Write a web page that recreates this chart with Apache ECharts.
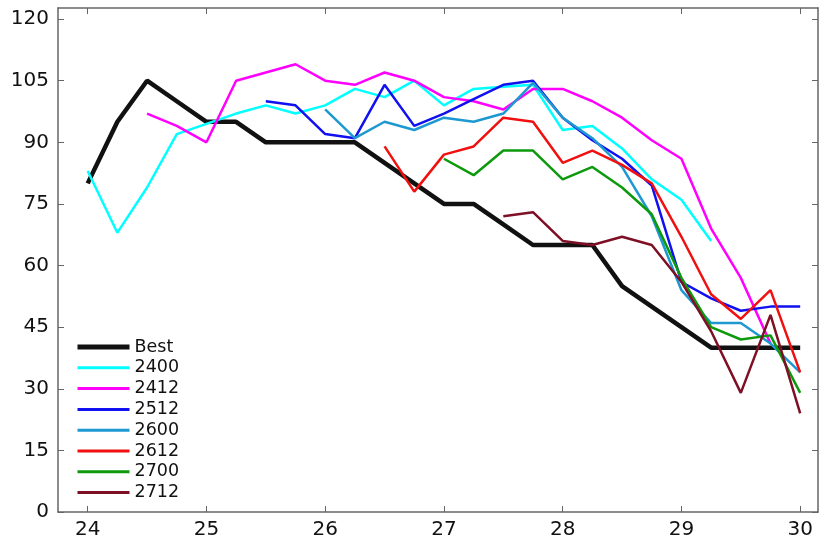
<!DOCTYPE html>
<html>
<head>
<meta charset="utf-8">
<script src="https://cdn.jsdelivr.net/npm/echarts@6/dist/echarts.min.js"></script>
<style>
  html, body { margin: 0; padding: 0; background: #fff; }
  #chart { width: 839px; height: 545px; }
</style>
</head>
<body>
<div id="chart"></div>
<script>
// x positions (quarter steps)
const xSteps = [24, 24.25, 24.5, 24.75, 25, 25.25, 25.5, 25.75, 26, 26.25, 26.5, 26.75,
  27, 27.25, 27.5, 27.75, 28, 28.25, 28.5, 28.75, 29, 29.25, 29.5, 29.75, 30];
const xTicks = [24, 25, 26, 27, 28, 29, 30];
const yTicks = [0, 15, 30, 45, 60, 75, 90, 105, 120];

const seriesNames = ["Best", "2400", "2412", "2512", "2600", "2612", "2700", "2712"];
const seriesColors = ["#111111", "#00ffff", "#ff00ff", "#1010f0", "#1e98d0", "#f01010", "#0c9a0c", "#7e0f25"];

const best   = [80, 95, 105, 100, 95, 95, 90, 90, 90, 90, 85, 80, 75, 75, 70, 65, 65, 65, 55, 50, 45, 40, 40, 40, 40];
const s2400  = [83, 68, 79, 92, 94.5, 97, 99, 97, 99, 103, 101, 105, 99, 103, 103.5, 104, 93, 94, 88.5, 81, 76, 66, null, null, null];
const s2412  = [null, null, 97, 94, 90, 105, 107, 109, 105, 104, 107, 105, 101, 100, 98, 103, 103, 100, 96, 90.5, 86, 69, 57, 41, null];
const s2512  = [null, null, null, null, null, null, 100, 99, 92, 91, 104, 94, 97, 100.5, 104, 105, 96, 90.5, 86, 79.5, 56, 52, 49, 50, 50];
const s2600  = [null, null, null, null, null, null, null, null, 98, 91, 95, 93, 96, 95, 97, 104.5, 96, 91, 84, 72, 54, 46, 46, 41, 34];
const s2612  = [null, null, null, null, null, null, null, null, null, null, 89, 78, 87, 89, 96, 95, 85, 88, 84.5, 80, 67, 53, 47, 54, 34];
const s2700  = [null, null, null, null, null, null, null, null, null, null, null, null, 86, 82, 88, 88, 81, 84, 79, 72.5, 57, 45, 42, 43, 29];
const s2712  = [null, null, null, null, null, null, null, null, null, null, null, null, null, null, 72, 73, 66, 65, 67, 65, 56, 44, 29, 48, 24];

const seriesValues = [best, s2400, s2412, s2512, s2600, s2612, s2700, s2712];

const chart = echarts.init(document.getElementById("chart"));

const frameColor = "#666666";
const labelFont = { fontFamily: "DejaVu Sans", fontSize: 20, color: "#111" };

chart.setOption({
  animation: false,
  backgroundColor: "#ffffff",
  grid: { left: 58, right: 21, top: 8, bottom: 33, show: false },
  legend: {
    orient: "vertical",
    left: 75,
    top: 338,
    padding: 0,
    itemWidth: 52,
    itemHeight: 16,
    itemGap: 2.8,
    itemStyle: { opacity: 0 },
    textStyle: { fontFamily: "DejaVu Sans", fontSize: 17.5, lineHeight: 15, color: "#111" },
    data: seriesNames.map((name, i) => ({ name, lineStyle: { width: i === 0 ? 5 : 3 } })),
  },
  xAxis: [
    {
      type: "value",
      min: 23.75,
      max: 30.15,
      axisLine: { show: true, onZero: false, lineStyle: { color: frameColor, width: 1.5 } },
      axisTick: { show: true, inside: true, length: 6, customValues: xTicks, lineStyle: { color: frameColor } },
      axisLabel: { customValues: xTicks, margin: 8, ...labelFont },
      splitLine: { show: false },
    },
    {
      type: "value",
      position: "top",
      min: 23.75,
      max: 30.15,
      axisLine: { show: true, onZero: false, lineStyle: { color: frameColor, width: 1.5 } },
      axisTick: { show: true, inside: true, length: 6, customValues: xTicks, lineStyle: { color: frameColor } },
      axisLabel: { show: false },
      splitLine: { show: false },
    },
  ],
  yAxis: [
    {
      type: "value",
      min: 0,
      max: 122.7,
      axisLine: { show: true, onZero: false, lineStyle: { color: frameColor, width: 1.5 } },
      axisTick: { show: true, inside: true, length: 6, customValues: yTicks, lineStyle: { color: frameColor } },
      axisLabel: { customValues: yTicks, margin: 9, ...labelFont },
      splitLine: { show: false },
    },
    {
      type: "value",
      position: "right",
      min: 0,
      max: 122.7,
      axisLine: { show: true, onZero: false, lineStyle: { color: frameColor, width: 1.5 } },
      axisTick: { show: true, inside: true, length: 6, customValues: yTicks, lineStyle: { color: frameColor } },
      axisLabel: { show: false },
      splitLine: { show: false },
    },
  ],
  series: seriesNames.map((name, i) => ({
    name,
    type: "line",
    symbol: "none",
    connectNulls: false,
    color: seriesColors[i],
    lineStyle: { color: seriesColors[i], width: i === 0 ? 4.5 : 2.5 },
    data: xSteps.map((x, j) => [x, seriesValues[i][j]]).filter((p) => p[1] !== null),
  })),
});
</script>
</body>
</html>
